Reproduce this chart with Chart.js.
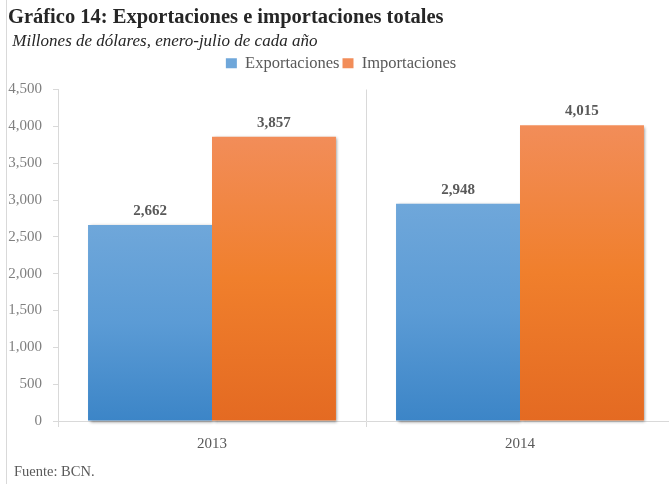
<!DOCTYPE html>
<html lang="es">
<head>
<meta charset="utf-8">
<title>Gráfico 14</title>
<script src="https://cdn.jsdelivr.net/npm/chart.js@4.4.1/dist/chart.umd.min.js"></script>
<style>
  html, body { margin: 0; padding: 0; background: #ffffff; overflow: hidden; }
  #wrap { position: relative; width: 676px; height: 484px; }
</style>
</head>
<body>
<div id="wrap"><canvas id="chart" width="676" height="484"></canvas></div>
<script>
// Data
const years = ['2013', '2014'];
const exportaciones = [2662, 2948];
const importaciones = [3857, 4015];
const yTicks = [0, 500, 1000, 1500, 2000, 2500, 3000, 3500, 4000, 4500];

const titleText = 'Gráfico 14: Exportaciones e importaciones totales';
const subtitleText = ' Millones de dólares, enero-julio de cada año';
const sourceText = 'Fuente: BCN.';

const SERIF = "'Liberation Serif', 'Times New Roman', serif";
const AXIS_GREY = '#d9d9d9';

// Vertical three-stop gradients (light top, base middle, dark bottom)
const blueStops = ['#6fa7da', '#5b9bd5', '#3c85c7'];
const orangeStops = ['#f28d59', '#f07f2c', '#e46a22'];

function fmt(v) {
  return v.toLocaleString('en-US');
}

function barFill(stops) {
  return function (ctx) {
    const chart = ctx.chart;
    if (ctx.type !== 'data' || !chart.chartArea) return stops[1];
    const ys = chart.scales.y;
    const top = ys.getPixelForValue(ctx.raw);
    const base = ys.getPixelForValue(0);
    const g = chart.ctx.createLinearGradient(0, top, 0, base);
    g.addColorStop(0, stops[0]);
    g.addColorStop(0.5, stops[1]);
    g.addColorStop(1, stops[2]);
    return g;
  };
}

// Soft drop shadow under each bar, painted before the bars themselves
const barShadow = {
  id: 'barShadow',
  beforeDatasetsDraw(chart) {
    const c = chart.ctx;
    c.save();
    c.shadowColor = 'rgba(0,0,0,0.45)';
    c.shadowBlur = 3;
    c.shadowOffsetX = 1.5;
    c.shadowOffsetY = 1.5;
    c.fillStyle = '#ffffff';
    chart.data.datasets.forEach((ds, i) => {
      chart.getDatasetMeta(i).data.forEach(el => {
        const w = el.width;
        c.fillRect(el.x - w / 2, el.y, w, el.base - el.y);
      });
    });
    c.restore();
  }
};

// Value labels above the bars
const valueLabels = {
  id: 'valueLabels',
  afterDatasetsDraw(chart) {
    const c = chart.ctx;
    c.save();
    c.font = 'bold 15px ' + SERIF;
    c.fillStyle = '#595959';
    c.textAlign = 'center';
    c.textBaseline = 'middle';
    chart.data.datasets.forEach((ds, i) => {
      chart.getDatasetMeta(i).data.forEach((el, j) => {
        c.fillText(fmt(ds.data[j]), el.x, el.y - 14);
      });
    });
    c.restore();
  }
};

// Frame line on the left and the source note
const frameAndSource = {
  id: 'frameAndSource',
  beforeDraw(chart) {
    const c = chart.ctx;
    c.save();
    c.strokeStyle = AXIS_GREY;
    c.lineWidth = 1;
    c.beginPath();
    c.moveTo(6.5, 0);
    c.lineTo(6.5, chart.height);
    c.stroke();
    c.restore();
  },
  afterDraw(chart) {
    const c = chart.ctx;
    c.save();
    c.font = '14.5px ' + SERIF;
    c.fillStyle = '#595959';
    c.textAlign = 'left';
    c.textBaseline = 'middle';
    c.fillText(sourceText, 14, 472);
    c.restore();
  }
};

new Chart(document.getElementById('chart'), {
  type: 'bar',
  data: {
    labels: years,
    datasets: [
      {
        label: 'Exportaciones',
        data: exportaciones,
        xAxisID: 'x',
        yAxisID: 'y',
        backgroundColor: barFill(blueStops),
        borderWidth: 0
      },
      {
        label: 'Importaciones',
        data: importaciones,
        xAxisID: 'x',
        yAxisID: 'y',
        backgroundColor: barFill(orangeStops),
        borderWidth: 0
      }
    ]
  },
  options: {
    responsive: false,
    devicePixelRatio: 1,
    animation: false,
    events: [],
    categoryPercentage: 0.805,
    barPercentage: 1.0,
    layout: { padding: { left: 8, right: 2, top: 0, bottom: 23 } },
    plugins: {
      title: {
        display: true,
        text: titleText,
        align: 'start',
        color: '#262626',
        font: { family: SERIF, size: 20.5, weight: 'bold' },
        padding: { top: 5, bottom: 0 }
      },
      subtitle: {
        display: true,
        text: subtitleText,
        align: 'start',
        color: '#262626',
        font: { family: SERIF, size: 17, style: 'italic' },
        padding: { top: 2, bottom: 0 }
      },
      legend: {
        display: true,
        position: 'top',
        align: 'center',
        labels: {
          boxWidth: 11,
          boxHeight: 10,
          padding: 3,
          color: '#595959',
          font: { family: SERIF, size: 16.5 }
        }
      },
      tooltip: { enabled: false }
    },
    scales: {
      xTop: {
        axis: 'x',
        type: 'category',
        position: 'top',
        display: true,
        grid: { display: false },
        border: { display: false },
        ticks: { display: false },
        afterFit(s) { s.height = 8; }
      },
      x: {
        type: 'category',
        position: 'bottom',
        offset: true,
        grid: {
          display: true,
          offset: true,
          color: AXIS_GREY,
          lineWidth: 1,
          drawOnChartArea: true,
          drawTicks: true,
          tickLength: 6
        },
        border: { display: true, color: AXIS_GREY, width: 1 },
        ticks: {
          color: '#595959',
          padding: 8,
          font: { family: SERIF, size: 15 }
        }
      },
      y: {
        type: 'linear',
        position: 'left',
        min: 0,
        max: 4500,
        afterBuildTicks(s) { s.ticks = yTicks.map(v => ({ value: v })); },
        afterFit(s) { s.width = 50; },
        grid: {
          display: true,
          drawOnChartArea: false,
          drawTicks: true,
          tickLength: 5,
          color: AXIS_GREY
        },
        border: { display: true, color: AXIS_GREY, width: 1 },
        ticks: {
          color: '#7f7f7f',
          padding: 11,
          font: { family: SERIF, size: 15 },
          callback: v => fmt(v)
        }
      }
    }
  },
  plugins: [barShadow, valueLabels, frameAndSource]
});
</script>
</body>
</html>
